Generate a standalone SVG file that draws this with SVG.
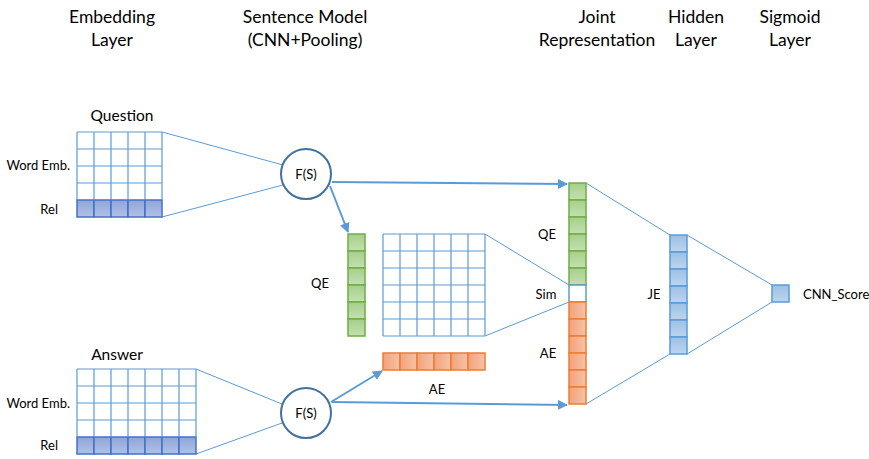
<svg xmlns="http://www.w3.org/2000/svg" width="869" height="459" viewBox="0 0 869 459">
  <style>
    text { font-family: Lato, "Open Sans", "Liberation Sans", sans-serif; fill: #000; }
    .hdr { font-size: 17.5px; text-anchor: middle; }
    .lbl { font-size: 13px; }
    .big { font-size: 15.5px; }
    .mid { text-anchor: middle; }
    .end { text-anchor: end; }
    .thin { stroke: #5b9bd5; stroke-width: 1; fill: none; }
    .arrow { stroke: #5b9bd5; stroke-width: 2; fill: none; marker-end: url(#head); }
    .grid { stroke: #5b9bd5; stroke-width: 1.2; fill: none; }
    .node { fill: #fff; stroke: #41719c; stroke-width: 2; }
    .green { fill: url(#gGreen); stroke: #70ad47; stroke-width: 1.5; }
    .orange { fill: url(#gOrange); stroke: #ed7d31; stroke-width: 1.5; }
    .rel { fill: url(#gRel); stroke: #4472c4; stroke-width: 1.5; }
    .hid { fill: url(#gBlue); stroke: #5b9bd5; stroke-width: 1.5; }
  </style>
  <defs>
    <marker id="head" viewBox="0 0 10 10" refX="9" refY="5" markerWidth="5" markerHeight="5" orient="auto" markerUnits="strokeWidth">
      <path d="M0,0 L10,5 L0,10 z" fill="#5b9bd5"/>
    </marker>
    <linearGradient id="gGreen" x1="0" y1="0" x2="0" y2="1">
      <stop offset="0" stop-color="#a5cf8a"/>
      <stop offset="1" stop-color="#c3e0b1"/>
    </linearGradient>
    <linearGradient id="gOrange" x1="0" y1="0" x2="1" y2="0">
      <stop offset="0" stop-color="#f4a27a"/>
      <stop offset="1" stop-color="#f7c2a6"/>
    </linearGradient>
    <linearGradient id="gRel" x1="0" y1="0" x2="0" y2="1">
      <stop offset="0" stop-color="#8ea5d8"/>
      <stop offset="1" stop-color="#b0c1e8"/>
    </linearGradient>
    <linearGradient id="gBlue" x1="0" y1="0" x2="0" y2="1">
      <stop offset="0" stop-color="#9cc0e5"/>
      <stop offset="1" stop-color="#bcd5ee"/>
    </linearGradient>
  </defs>

  <!-- column headings -->
  <g id="headings">
    <text class="hdr" x="112" y="23">Embedding</text>
    <text class="hdr" x="112" y="46">Layer</text>
    <text class="hdr" x="305" y="23">Sentence Model</text>
    <text class="hdr" x="305" y="46">(CNN+Pooling)</text>
    <text class="hdr" x="597" y="23">Joint</text>
    <text class="hdr" x="597" y="46">Representation</text>
    <text class="hdr" x="696" y="23">Hidden</text>
    <text class="hdr" x="696" y="46">Layer</text>
    <text class="hdr" x="790" y="23">Sigmoid</text>
    <text class="hdr" x="790" y="46">Layer</text>
  </g>

  <!-- connectors -->
  <g id="connectors">
    <path class="thin" d="M162,132 L283,165 M162,217 L283,185"/>
    <path class="thin" d="M196,369 L282,404 M196,454 L282,423"/>
    <path class="thin" d="M485,234 L569,285 M485,336 L569,302"/>
    <path class="thin" d="M586,183 L670,235 M586,404 L670,354"/>
    <path class="thin" d="M687,235 L772,285 M687,354 L772,302"/>
    <path class="arrow" d="M332,182 L567,184"/>
    <path class="arrow" d="M330,186 L348,232"/>
    <path class="arrow" d="M331,402 L382,371"/>
    <path class="arrow" d="M332,402 L567,405"/>
  </g>

  <!-- question embedding matrix -->
  <g id="question-emb">
    <text class="big mid" x="122" y="121">Question</text>
    <text class="lbl end" x="70" y="170">Word Emb.</text>
    <text class="lbl end" x="58" y="214">Rel</text>
    <rect x="77" y="132" width="85" height="68" fill="#fff"/>
    <g class="rel">
      <rect x="77" y="200" width="17" height="17"/>
      <rect x="94" y="200" width="17" height="17"/>
      <rect x="111" y="200" width="17" height="17"/>
      <rect x="128" y="200" width="17" height="17"/>
      <rect x="145" y="200" width="17" height="17"/>
    </g>
    <path class="grid" d="M77,132 V200 M94,132 V200 M111,132 V200 M128,132 V200 M145,132 V200 M162,132 V200 M77,132 H162 M77,149 H162 M77,166 H162 M77,183 H162"/>
  </g>

  <!-- answer embedding matrix -->
  <g id="answer-emb">
    <text class="big mid" x="117" y="360">Answer</text>
    <text class="lbl end" x="70" y="408">Word Emb.</text>
    <text class="lbl end" x="58" y="450">Rel</text>
    <rect x="77" y="369" width="119" height="68" fill="#fff"/>
    <g class="rel">
      <rect x="77" y="437" width="17" height="17"/>
      <rect x="94" y="437" width="17" height="17"/>
      <rect x="111" y="437" width="17" height="17"/>
      <rect x="128" y="437" width="17" height="17"/>
      <rect x="145" y="437" width="17" height="17"/>
      <rect x="162" y="437" width="17" height="17"/>
      <rect x="179" y="437" width="17" height="17"/>
    </g>
    <path class="grid" d="M77,369 V437 M94,369 V437 M111,369 V437 M128,369 V437 M145,369 V437 M162,369 V437 M179,369 V437 M196,369 V437 M77,369 H196 M77,386 H196 M77,403 H196 M77,420 H196"/>
  </g>

  <!-- sentence models -->
  <g id="fs-question">
    <circle class="node" cx="306" cy="174" r="25"/>
    <text class="lbl mid" x="306" y="179">F(S)</text>
  </g>
  <g id="fs-answer">
    <circle class="node" cx="306" cy="413" r="25"/>
    <text class="lbl mid" x="306" y="418">F(S)</text>
  </g>

  <!-- question embedding vector -->
  <g id="qe-vector">
    <text class="lbl mid" x="320" y="288">QE</text>
    <g class="green">
      <rect x="348" y="234" width="17" height="17"/>
      <rect x="348" y="251" width="17" height="17"/>
      <rect x="348" y="268" width="17" height="17"/>
      <rect x="348" y="285" width="17" height="17"/>
      <rect x="348" y="302" width="17" height="17"/>
      <rect x="348" y="319" width="17" height="17"/>
    </g>
  </g>

  <!-- similarity matrix -->
  <g id="sim-matrix">
    <rect x="383" y="234" width="102" height="102" fill="#fff"/>
    <path class="grid" d="M383,234 V336 M400,234 V336 M417,234 V336 M434,234 V336 M451,234 V336 M468,234 V336 M485,234 V336 M383,234 H485 M383,251 H485 M383,268 H485 M383,285 H485 M383,302 H485 M383,319 H485 M383,336 H485"/>
  </g>

  <!-- answer embedding vector -->
  <g id="ae-vector">
    <text class="lbl mid" x="437" y="394">AE</text>
    <g class="orange">
      <rect x="383" y="353" width="17" height="17"/>
      <rect x="400" y="353" width="17" height="17"/>
      <rect x="417" y="353" width="17" height="17"/>
      <rect x="434" y="353" width="17" height="17"/>
      <rect x="451" y="353" width="17" height="17"/>
      <rect x="468" y="353" width="17" height="17"/>
    </g>
  </g>

  <!-- joint representation -->
  <g id="joint">
    <text class="lbl mid" x="547" y="239">QE</text>
    <text class="lbl mid" x="546" y="299">Sim</text>
    <text class="lbl mid" x="548" y="358">AE</text>
    <g class="green">
      <rect x="569" y="183" width="17" height="17"/>
      <rect x="569" y="200" width="17" height="17"/>
      <rect x="569" y="217" width="17" height="17"/>
      <rect x="569" y="234" width="17" height="17"/>
      <rect x="569" y="251" width="17" height="17"/>
      <rect x="569" y="268" width="17" height="17"/>
    </g>
    <rect x="569" y="285" width="17" height="17" fill="#fff" stroke="#5b9bd5" stroke-width="1.5"/>
    <g class="orange">
      <rect x="569" y="302" width="17" height="17"/>
      <rect x="569" y="319" width="17" height="17"/>
      <rect x="569" y="336" width="17" height="17"/>
      <rect x="569" y="353" width="17" height="17"/>
      <rect x="569" y="370" width="17" height="17"/>
      <rect x="569" y="387" width="17" height="17"/>
    </g>
  </g>

  <!-- hidden layer -->
  <g id="hidden">
    <text class="lbl mid" x="654" y="299">JE</text>
    <g class="hid">
      <rect x="670" y="235" width="17" height="17"/>
      <rect x="670" y="252" width="17" height="17"/>
      <rect x="670" y="269" width="17" height="17"/>
      <rect x="670" y="286" width="17" height="17"/>
      <rect x="670" y="303" width="17" height="17"/>
      <rect x="670" y="320" width="17" height="17"/>
      <rect x="670" y="337" width="17" height="17"/>
    </g>
  </g>

  <!-- sigmoid output -->
  <g id="sigmoid">
    <rect class="hid" x="772" y="285" width="17" height="17"/>
    <text class="lbl" x="803" y="299">CNN_Score</text>
  </g>
</svg>
